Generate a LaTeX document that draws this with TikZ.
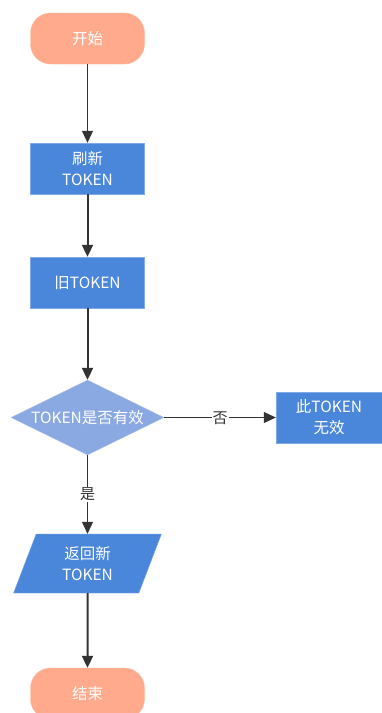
\documentclass[tikz,border=0pt]{standalone}
\usepackage{fontspec}
\setmainfont{Noto Sans CJK SC}
\usetikzlibrary{shapes.geometric,arrows.meta}
\definecolor{termfill}{HTML}{FFAA8C}
\definecolor{procfill}{HTML}{4A86D9}
\definecolor{decfill}{HTML}{8AA8E2}
\definecolor{linecol}{HTML}{333333}
\tikzset{
  txt/.style={text=white, font=\fontsize{15.5pt}{21pt}\selectfont, inner sep=0pt, align=center},
  terminal/.style={txt, draw=termfill!80!white, fill=termfill, rounded corners=20pt,
    minimum width=114pt, minimum height=51pt},
  process/.style={txt, draw=procfill!70!white, fill=procfill, minimum width=114pt, minimum height=51pt},
  decision/.style={txt, diamond, draw=decfill!70!white, fill=decfill, minimum width=153pt, minimum height=75pt,
    aspect=2.04},
  io/.style={txt, trapezium, trapezium left angle=72, trapezium right angle=108, draw=procfill!70!white, fill=procfill,
    minimum width=149pt, minimum height=59pt, trapezium stretches=true},
  thinflow/.style={draw=linecol, line width=1pt, -{Triangle[length=12pt,width=11pt]}},
  flow/.style={draw=linecol, line width=2pt, -{Triangle[length=12pt,width=11pt]}},
  lbl/.style={fill=white, text=linecol, font=\fontsize{15pt}{18pt}\selectfont, inner sep=1pt}
}
\begin{document}
\begin{tikzpicture}[x=1pt,y=-1pt]
  \useasboundingbox (0,0) rectangle (382,713);
  \clip (0,0) rectangle (382,713);
  \node[terminal] (start) at (87.5,38.5) {开始};
  \node[process] (refresh) at (87.5,168.5) {刷新\\TOKEN};
  \node[process] (old) at (87.5,282.5) {旧TOKEN};
  \node[decision] (valid) at (87.5,417.5) {TOKEN是否有效};
  \node[process, minimum width=106pt] (invalid) at (329,417.5) {此TOKEN\\无效};
  \node[io] (ret) at (87.5,563.5) {返回新\\TOKEN};
  \node[terminal] (end) at (87.5,693.5) {结束};

  \draw[thinflow] (start) -- (refresh);
  \draw[flow] (refresh) -- (old);
  \draw[flow] (old) -- (valid);
  \draw[thinflow] (valid) -- node[lbl, pos=0.5, yshift=-1pt] {否} (invalid);
  \draw[thinflow] (valid) -- node[lbl, pos=0.5] {是} (ret);
  \draw[flow] (ret) -- (end);
\end{tikzpicture}
\end{document}
